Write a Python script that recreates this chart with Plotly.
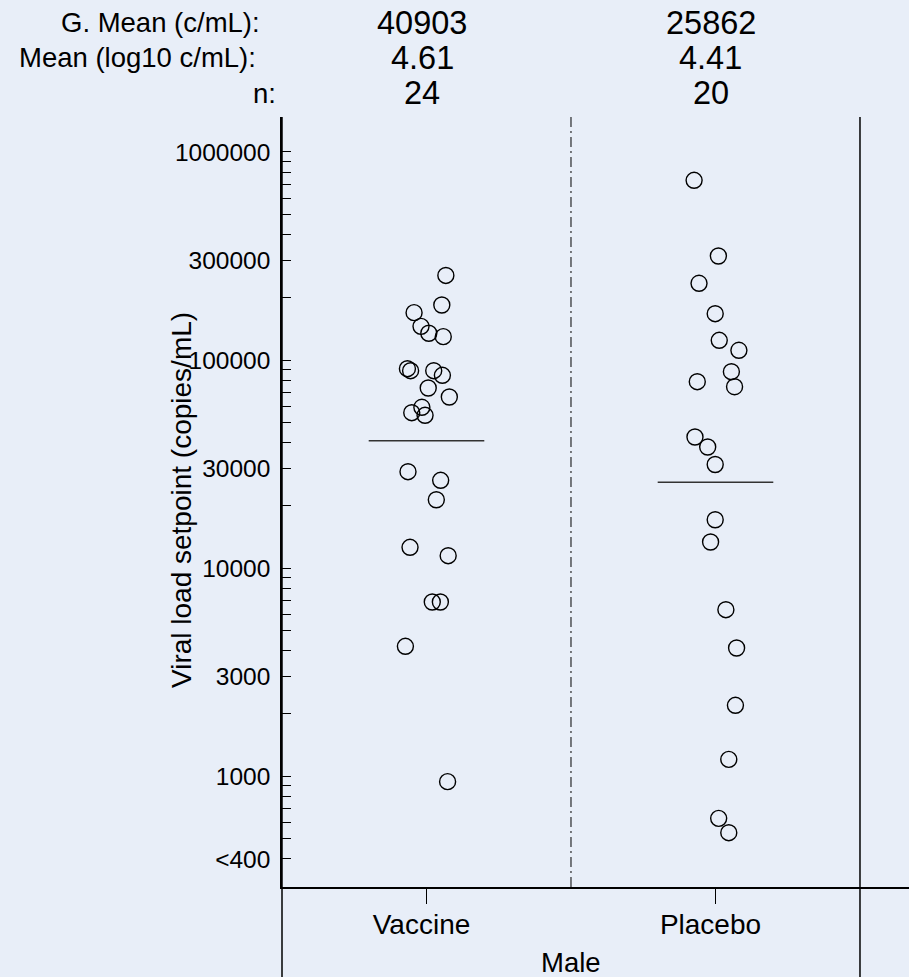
import plotly.graph_objects as go
import numpy as np

# ---------------- data ----------------
groups = ["Vaccine", "Placebo"]
group_label = "Male"
stat_labels = ["G. Mean (c/mL):", "Mean (log10 c/mL):", "n:"]
gmean_text = ["40903", "25862"]
logmean_text = ["4.61", "4.41"]
n_text = ["24", "20"]
gmean_values = [40903, 25862]

vaccine_vl = [255000, 183900, 168900, 145200, 134500, 129500, 90850, 88870,
              88870, 84460, 73380, 66440, 59280, 55840, 54250, 29060, 26420,
              21310, 12590, 11470, 6871, 6871, 4209, 941]
vaccine_jitter = [0.067, 0.053, -0.043, -0.019, 0.008, 0.058, -0.066, -0.055,
                  0.025, 0.055, 0.006, 0.079, -0.016, -0.051, -0.005, -0.064,
                  0.049, 0.034, -0.057, 0.075, 0.020, 0.048, -0.073, 0.073]
placebo_vl = [730700, 316200, 233800, 167000, 124400, 111400, 87890, 78670,
              74430, 42670, 38190, 31470, 17080, 13350, 6310, 4130, 2191,
              1205, 627, 535]
placebo_jitter = [-0.074, 0.010, -0.057, -0.001, 0.013, 0.081, 0.055, -0.063,
                  0.066, -0.071, -0.027, -0.001, -0.001, -0.017, 0.036, 0.073,
                  0.069, 0.046, 0.011, 0.046]

ytick_vals = [400, 1000, 3000, 10000, 30000, 100000, 300000, 1000000]
ytick_text = ["<400", "1000", "3000", "10000", "30000", "100000", "300000", "1000000"]
minor_mult = [2, 4, 5, 6, 7, 8, 9]

# ---------------- layout constants ----------------
W, H = 909, 977
L, T, B, R = 282, 117, 90, 0
plot_h = H - T - B
xmin, xmax = -0.5, 1.6696
ymin, ymax = 2.4674, 6.168
BG = "#E8EEF8"
FONT = "Liberation Sans, Arial, sans-serif"

minor_vals = [m * 10 ** k for k in range(2, 7) for m in minor_mult
              if 10 ** ymin <= m * 10 ** k <= 10 ** ymax and m * 10 ** k not in ytick_vals]

fig = go.Figure()

series = [(vaccine_vl, vaccine_jitter), (placebo_vl, placebo_jitter)]
for gi, (vals, jit) in enumerate(series):
    fig.add_trace(go.Scatter(
        x=[gi - 0.2, gi + 0.2], y=[gmean_values[gi]] * 2, mode="lines",
        line=dict(color="#333333", width=1.5), hoverinfo="skip", showlegend=False))
    fig.add_trace(go.Scatter(
        x=[gi + j for j in jit], y=vals, mode="markers",
        marker=dict(symbol="circle-open", size=16, color="black",
                    line=dict(width=1.4, color="black")),
        showlegend=False, name=groups[gi]))

fig.update_xaxes(
    range=[xmin, xmax], tickmode="array", tickvals=list(range(len(groups))),
    ticktext=groups, ticks="outside", ticklen=15, tickwidth=1.2, tickcolor="black",
    showline=True, linecolor="black", linewidth=1.5, showgrid=False, zeroline=False,
    tickfont=dict(size=28, color="black", family=FONT), ticklabelshift=-5,
    ticklabelstandoff=-3)

fig.update_yaxes(
    type="log", range=[ymin, ymax], tickmode="array", tickvals=ytick_vals,
    ticktext=ytick_text, ticks="inside", ticklen=9, tickwidth=1.2, tickcolor="black",
    minor=dict(tickmode="array", tickvals=minor_vals, ticks="inside", ticklen=9,
               tickwidth=1.2, tickcolor="black", showgrid=False),
    showline=True, linecolor="black", linewidth=1.5, showgrid=False, zeroline=False,
    tickfont=dict(size=24.5, color="black", family=FONT), ticklabelstandoff=5)

ext = -B / plot_h
x_right = (1.5 - xmin) / (xmax - xmin)
shapes = [
    dict(type="line", xref="x", yref="paper", x0=0.5, x1=0.5, y0=0, y1=1,
         line=dict(color="black", width=1, dash="10px,4px,2px,4px")),
    dict(type="line", xref="paper", yref="paper", x0=0, x1=0, y0=ext, y1=1,
         line=dict(color="black", width=1.5)),
    dict(type="line", xref="paper", yref="paper", x0=x_right, x1=x_right, y0=ext, y1=1,
         line=dict(color="black", width=1.5)),
]

ann = []
label_xshift = [-20, -23.7, -3.7]
row_yshift = [94.5, 59.5, 24]
for i, lab in enumerate(stat_labels):
    ann.append(dict(text=lab, xref="paper", yref="paper", x=0, y=1,
                    xanchor="right", yanchor="middle", xshift=label_xshift[i],
                    yshift=row_yshift[i], showarrow=False,
                    font=dict(size=27.5, color="black", family=FONT)))
for gi in range(len(groups)):
    for ri, txt in enumerate([gmean_text[gi], logmean_text[gi], n_text[gi]]):
        ann.append(dict(text=txt, xref="x", yref="paper", x=gi, y=1,
                        xanchor="center", yanchor="middle", xshift=-4.5,
                        yshift=row_yshift[ri], showarrow=False,
                        font=dict(size=32.5, color="black", family=FONT)))
ann.append(dict(text="Viral load setpoint (copies/mL)", xref="paper", yref="paper",
                x=0, y=0.5, xshift=181 - L, yshift=2, textangle=-90,
                xanchor="center", yanchor="middle", showarrow=False,
                font=dict(size=28, color="black", family=FONT)))
ann.append(dict(text=group_label, xref="x", yref="paper", x=0.5, y=0,
                xanchor="center", yanchor="middle", yshift=-75, showarrow=False,
                font=dict(size=27.5, color="black", family=FONT)))

fig.update_layout(
    width=W, height=H, margin=dict(l=L, r=R, t=T, b=B, autoexpand=False),
    paper_bgcolor=BG, plot_bgcolor=BG, shapes=shapes, annotations=ann,
    font=dict(family=FONT, color="black"), showlegend=False)

fig.write_html(
    "out.html",
    config={"displayModeBar": False},
    post_script="document.body.style.margin='0';document.body.style.padding='0';"
                "document.body.style.overflow='hidden';"
                "document.body.style.background='" + BG + "';")
